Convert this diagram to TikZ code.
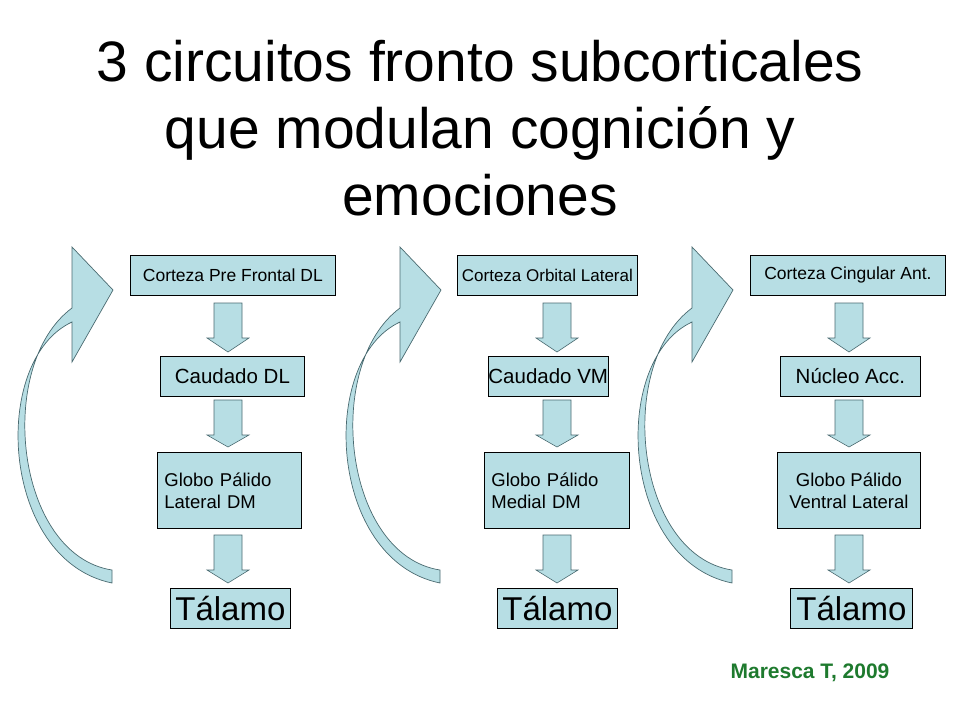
\documentclass[tikz,border=0pt]{standalone}
\usepackage{fontspec}
\setmainfont{Liberation Sans}
\begin{document}
\begin{tikzpicture}[x=1pt,y=-1pt,
  box/.style={draw=black,fill=lb,line width=0.8pt,inner sep=0pt,font=\fontsize{18.5}{22}\selectfont},
  barrow/.style={draw=darkl,fill=lb,line width=0.6pt}]
\definecolor{lb}{HTML}{B7DEE4}
\definecolor{darkl}{HTML}{4A6A70}
\definecolor{grn}{HTML}{1E7A2E}
\useasboundingbox (0,0) rectangle (960,720);
\node[font=\fontsize{57}{67}\selectfont,align=center] (title) at (480,128) {3 circuitos fronto subcorticales\\que modulan cognición y\\emociones};
\newcommand\colm[9]{%
 \begin{scope}[xshift=#1]
 \filldraw[draw=darkl,fill=lb,line width=0.7pt] (112,583) .. controls (0,560) and (-10,360) .. (72,322) -- (72,362) -- (113,290) -- (72,247) -- (72,308) .. controls (-5,365) and (15,555) .. (112,570) -- cycle;
 \end{scope}
 \node[box,minimum width=#3,minimum height=40,anchor=north west] (#2a) at (#4,255) {#5};
 \node[box,minimum width=#6,minimum height=40,anchor=north west] (#2b) at (#7,356) {#8};
}
\colm{0pt}{p}{205pt}{130}{\fontsize{17.5}{20}\selectfont Corteza Pre Frontal DL}{144pt}{160}{\fontsize{20.5}{24}\selectfont Caudado DL}{}
\colm{328pt}{q}{180pt}{457}{\fontsize{17}{20}\selectfont Corteza Orbital Lateral}{119pt}{488}{\fontsize{20.5}{24}\selectfont Caudado VM}{}
\colm{620pt}{r}{195pt}{750}{\fontsize{17.5}{20}\selectfont Corteza Cingular Ant.}{140pt}{780}{\fontsize{20.5}{24}\selectfont Núcleo Acc.}{}
\node[box,minimum width=144,minimum height=76,anchor=north west,align=left,text width=130,inner xsep=7pt] (pc) at (157,452) {Globo Pálido\\Lateral DM};
\node[box,minimum width=145,minimum height=76,anchor=north west,align=left,text width=131,inner xsep=7pt] (qc) at (484,452) {Globo Pálido\\Medial DM};
\node[box,minimum width=143,minimum height=76,anchor=north west,align=center] (rc) at (777,452) {Globo Pálido\\Ventral Lateral};
\node[box,minimum width=120,minimum height=40,anchor=north west,font=\fontsize{33}{36}\selectfont] (pd) at (170,588) {Tálamo};
\node[box,minimum width=120,minimum height=40,anchor=north west,font=\fontsize{33}{36}\selectfont] (qd) at (497,588) {Tálamo};
\node[box,minimum width=122,minimum height=40,anchor=north west,font=\fontsize{33}{36}\selectfont] (rd) at (790,588) {Tálamo};
\foreach \cx in {228,557,849}{
 \foreach \ya/\yb/\yc in {303/338/352, 400/435/447, 535/570/583}{
  \filldraw[barrow] (\cx-14,\ya) -- (\cx+14,\ya) -- (\cx+14,\yb) -- (\cx+21,\yb) -- (\cx,\yc) -- (\cx-21,\yb) -- (\cx-14,\yb) -- cycle;
 }}
\node[font=\fontsize{21}{25}\selectfont\bfseries,text=grn] (cite) at (810,673) {Maresca T, 2009};
\end{tikzpicture}
\end{document}
